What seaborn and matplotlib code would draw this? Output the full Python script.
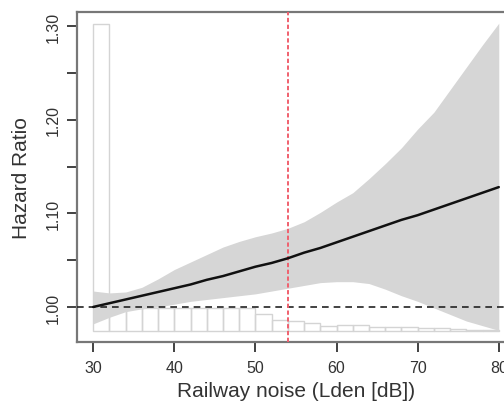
import numpy as np
import pandas as pd
import matplotlib
matplotlib.use("Agg")
import matplotlib.pyplot as plt
import seaborn as sns

# spline estimate of hazard ratio vs railway noise (read every 2 dB)
noise_db = [30, 32, 34, 36, 38, 40, 42, 44, 46, 48, 50, 52, 54,
            56, 58, 60, 62, 64, 66, 68, 70, 72, 74, 76, 78, 80]
hazard_ratio = [1.000, 1.004, 1.008, 1.012, 1.016, 1.020, 1.024, 1.029, 1.033,
                1.038, 1.043, 1.047, 1.052, 1.058, 1.063, 1.069, 1.075, 1.081,
                1.087, 1.093, 1.098, 1.104, 1.110, 1.116, 1.122, 1.128]
ci_upper = [1.017, 1.015, 1.016, 1.021, 1.030, 1.040, 1.048, 1.056, 1.064,
            1.070, 1.075, 1.079, 1.084, 1.091, 1.101, 1.112, 1.122, 1.137,
            1.153, 1.170, 1.190, 1.208, 1.232, 1.256, 1.280, 1.303]
ci_lower = [0.982, 0.989, 0.995, 0.998, 1.000, 1.003, 1.006, 1.008, 1.010,
            1.012, 1.014, 1.017, 1.020, 1.023, 1.026, 1.027, 1.027, 1.025,
            1.019, 1.012, 1.006, 0.999, 0.992, 0.985, 0.980, 0.975]

# exposure distribution (2 dB bins), drawn at the bottom of the panel
hist_edges = list(range(30, 80, 2))
hist_height = [0.328, 0.0246, 0.0246, 0.0246, 0.0246, 0.0246, 0.0246, 0.0246,
               0.0246, 0.0246, 0.018, 0.0117, 0.0107, 0.0085, 0.0053, 0.0064,
               0.0064, 0.0043, 0.0043, 0.0043, 0.0032, 0.0032, 0.0021, 0.0011, 0.0011]
hist_base = 0.9744

cutoff_db = 54
ref_hr = 1.0

df = pd.DataFrame({"noise": noise_db, "hr": hazard_ratio,
                   "lo": ci_lower, "hi": ci_upper})

sns.set_style("ticks")
plt.rcParams["font.family"] = ["Liberation Sans", "DejaVu Sans"]

fig = plt.figure(figsize=(5.04, 4.06), dpi=100)
ax = fig.add_axes([0.1528, 0.1552, 0.869, 0.8128])

ax.bar(hist_edges, hist_height, width=2, bottom=hist_base, align="edge",
       facecolor="none", edgecolor="#d4d4d4", linewidth=1.0, zorder=1)

ax.fill_between(df["noise"], df["lo"], df["hi"], color="#d6d6d6",
                linewidth=0, zorder=2)
sns.lineplot(data=df, x="noise", y="hr", color="#111111", linewidth=1.8,
             ax=ax, zorder=4)

ax.axhline(ref_hr, color="#222222", linestyle=(0, (4, 3)), linewidth=1.2, zorder=3)
ax.axvline(cutoff_db, color="#f0606e", linestyle=(0, (2.2, 1.3)), linewidth=1.4, zorder=3)

ax.set_xlim(28, 82)
ax.set_ylim(0.9626, 1.315)
ax.set_xticks([30, 40, 50, 60, 70, 80])
ax.set_yticks([1.00, 1.05, 1.10, 1.15, 1.20, 1.25, 1.30])
ax.set_yticklabels(["1.00", "", "1.10", "", "1.20", "", "1.30"])
ax.tick_params(axis="y", labelrotation=90, length=7, width=1.3, color="#333333",
               labelsize=11.5, labelcolor="#333333", pad=5)
ax.tick_params(axis="x", length=7, width=1.3, color="#333333",
               labelsize=11.5, labelcolor="#333333", pad=6)
for lab in ax.get_yticklabels():
    lab.set_va("center")

for s in ax.spines.values():
    s.set_visible(True)
    s.set_color("#777777")
    s.set_linewidth(1.6)

ax.set_xlabel("Railway noise (Lden [dB])", fontsize=15, color="#333333", labelpad=4)
ax.set_ylabel("Hazard Ratio", fontsize=15, color="#333333", labelpad=10)

fig.savefig("out.png", dpi=100)
